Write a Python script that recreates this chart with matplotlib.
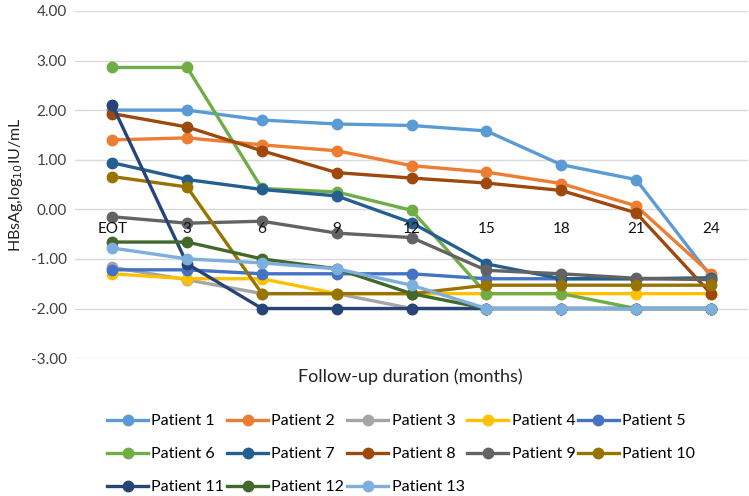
import matplotlib
matplotlib.use('Agg')
import matplotlib.pyplot as plt

plt.rcParams['font.family'] = ['Lato', 'DejaVu Sans']

months = ['EOT', '3', '6', '9', '12', '15', '18', '21', '24']

patients = {
    'Patient 1': [2.00, 2.00, 1.80, 1.72, 1.69, 1.58, 0.90, 0.60, -1.35],
    'Patient 2': [1.40, 1.44, 1.30, 1.18, 0.88, 0.75, 0.52, 0.07, -1.30],
    'Patient 3': [-1.17, -1.42, -1.70, -1.70, -2.00, -2.00, -2.00, -2.00, -2.00],
    'Patient 4': [-1.30, -1.40, -1.40, -1.70, -1.70, -1.70, -1.70, -1.70, -1.70],
    'Patient 5': [-1.22, -1.22, -1.30, -1.30, -1.30, -1.40, -1.40, -1.40, -1.40],
    'Patient 6': [2.86, 2.86, 0.42, 0.35, -0.02, -1.70, -1.70, -2.00, -2.00],
    'Patient 7': [0.94, 0.60, 0.40, 0.27, -0.27, -1.10, -1.40, -1.40, -1.38],
    'Patient 8': [1.93, 1.66, 1.18, 0.74, 0.63, 0.53, 0.38, -0.07, -1.70],
    'Patient 9': [-0.15, -0.28, -0.24, -0.48, -0.57, -1.23, -1.30, -1.39, -1.42],
    'Patient 10': [0.66, 0.45, -1.70, -1.70, -1.70, -1.53, -1.53, -1.53, -1.53],
    'Patient 11': [2.10, -1.10, -2.00, -2.00, -2.00, -2.00, -2.00, -2.00, -2.00],
    'Patient 12': [-0.66, -0.66, -1.00, -1.20, -1.70, -2.00, -2.00, -2.00, -2.00],
    'Patient 13': [-0.78, -1.00, -1.08, -1.20, -1.53, -2.00, -2.00, -2.00, -2.00],
}

colors = ['#5B9BD5', '#ED7D31', '#A5A5A5', '#FFC000', '#4472C4', '#70AD47',
          '#255E91', '#9E480E', '#636363', '#997300', '#264478', '#43682B',
          '#7CAFDD']

fig = plt.figure(figsize=(7.49, 4.96), dpi=100)
ax = fig.add_axes([0.1, 0.278, 0.899, 0.70])

x = list(range(len(months)))
lines = {}
for (name, vals), c in zip(patients.items(), colors):
    ln, = ax.plot(x, vals, color=c, lw=2.4, marker='o', ms=7.5, label=name)
    lines[name] = ln

ax.set_xlim(-0.5, len(months) - 0.5)
ax.set_ylim(-3, 4)
ax.set_yticks(range(-3, 5))
ax.set_yticklabels(['%.2f' % v for v in range(-3, 5)])
ax.grid(axis='y', color='#D9D9D9', lw=1)
ax.set_axisbelow(True)

for s in ['top', 'right', 'left']:
    ax.spines[s].set_visible(False)
ax.spines['bottom'].set_position(('data', 0))
ax.spines['bottom'].set_visible(False)
ax.set_xticks(x)
ax.set_xticklabels(months)
ax.tick_params(axis='x', length=0, pad=9, labelsize=11, labelcolor='#111111')
ax.tick_params(axis='y', length=0, pad=6, labelsize=11, labelcolor='#404040')
ax.xaxis.set_zorder(5)  # category labels sit on top of the lines

ax.set_ylabel('HBsAg,log$_{10}$IU/mL', fontsize=11.5, color='#222222', labelpad=4)
fig.text(0.548, 0.24, 'Follow-up duration (months)', ha='center', va='center',
         fontsize=13, color='#222222')

names = list(patients.keys())
order = [0, 5, 10, 1, 6, 11, 2, 7, 12, 3, 8, 4, 9]
fig.legend([lines[names[i]] for i in order], [names[i] for i in order],
           ncol=5, loc='upper left', bbox_to_anchor=(0.134, 0.178),
           frameon=False, fontsize=11.5, handlelength=2.6, handletextpad=0.2,
           columnspacing=0.15, labelspacing=1.18, borderaxespad=0)

fig.savefig('out.png', dpi=100)
